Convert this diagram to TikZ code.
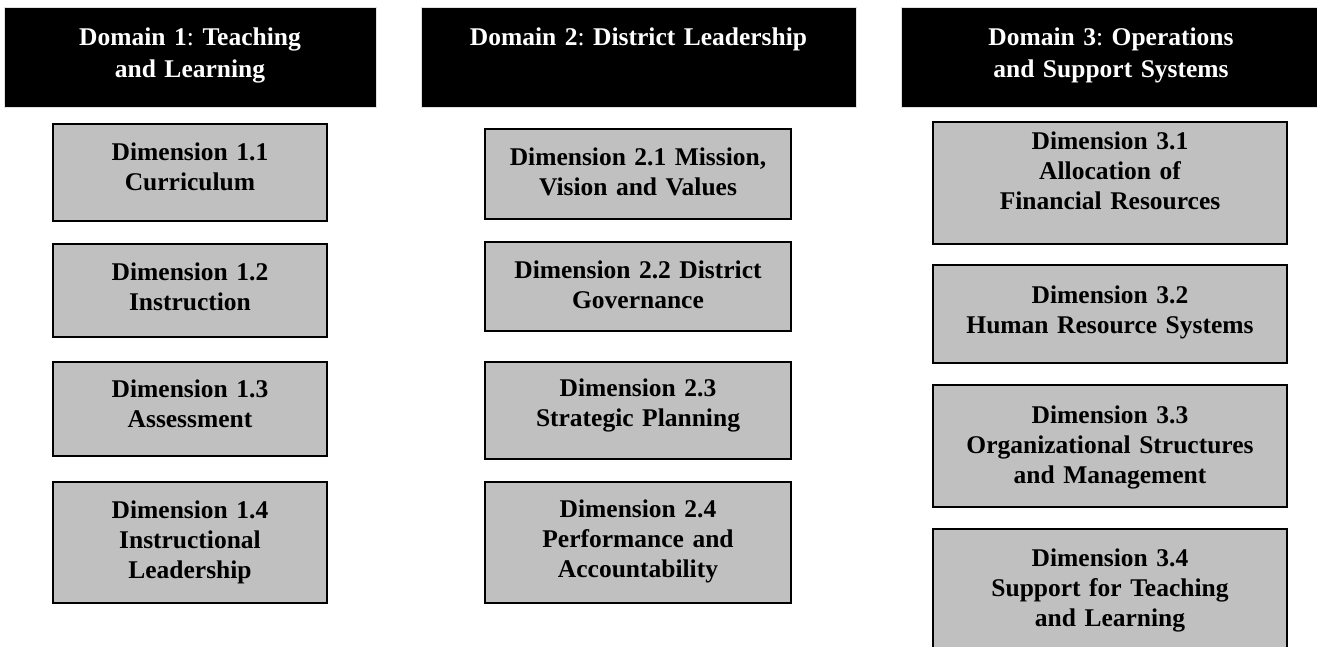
\documentclass[tikz,border=0pt]{standalone}
\usepackage{fontspec}
\setmainfont{Liberation Serif}
\definecolor{cellgray}{HTML}{C0C0C0}
\tikzset{
  dombox/.style={fill=black, draw=black!12, line width=0.8pt, text=white,
    font=\bfseries\frenchspacing\fontsize{25.5}{32}\selectfont, align=center,
    anchor=north, inner sep=0pt, text height=38pt, text depth=62pt},
  dimbox/.style={fill=cellgray, draw=black, line width=2pt,
    font=\bfseries\frenchspacing\fontsize{25.5}{30}\selectfont, align=center,
    anchor=north, inner sep=0pt, text height=36pt}
}
\begin{document}
\begin{tikzpicture}[x=1pt,y=-1pt]
  \useasboundingbox (0,0) rectangle (1317,646);
  \clip (0,0) rectangle (1317,646);

  % domain headers
  \node[dombox, text width=372pt] (dom1) at (190,7)
    {Domain 1{\mdseries:} Teaching\\and Learning};
  \node[dombox, text width=435pt] (dom2) at (638.5,7)
    {Domain 2{\mdseries:} District Leadership};
  \node[dombox, text width=420pt] (dom3) at (1111,7)
    {Domain 3{\mdseries:} Operations\\and Support Systems};

  % domain 1
  \node[dimbox, text width=274pt, text depth=61pt] (d11) at (190,123)
    {Dimension 1.1\\Curriculum};
  \node[dimbox, text width=274pt, text depth=57pt] (d12) at (190,243)
    {Dimension 1.2\\Instruction};
  \node[dimbox, text width=274pt, text height=35pt, text depth=59pt] (d13) at (190,361)
    {Dimension 1.3\\Assessment};
  \node[dimbox, text width=274pt, text depth=85pt] (d14) at (190,481)
    {Dimension 1.4\\Instructional\\Leadership};

  % domain 2
  \node[dimbox, text width=306pt, text depth=54pt] (d21) at (638,128)
    {Dimension 2.1 Mission,\\Vision and Values};
  \node[dimbox, text width=306pt, text depth=53pt] (d22) at (638,241)
    {Dimension 2.2 District\\Governance};
  \node[dimbox, text width=306pt, text height=34pt, text depth=63pt] (d23) at (638,361)
    {Dimension 2.3\\Strategic Planning};
  \node[dimbox, text width=306pt, text height=35pt, text depth=86pt] (d24) at (638,481)
    {Dimension 2.4\\Performance and\\Accountability};

  % domain 3
  \node[dimbox, text width=354pt, text height=27pt, text depth=95pt] (d31) at (1110,121)
    {Dimension 3.1\\Allocation of\\Financial Resources};
  \node[dimbox, text width=354pt, text height=38pt, text depth=60pt] (d32) at (1110,264)
    {Dimension 3.2\\Human Resource Systems};
  \node[dimbox, text width=354pt, text height=38pt, text depth=84pt] (d33) at (1110,384)
    {Dimension 3.3\\Organizational Structures\\and Management};
  \node[dimbox, text width=354pt, text height=37pt, text depth=110pt] (d34) at (1110,528)
    {Dimension 3.4\\Support for Teaching\\and Learning};
\end{tikzpicture}
\end{document}
